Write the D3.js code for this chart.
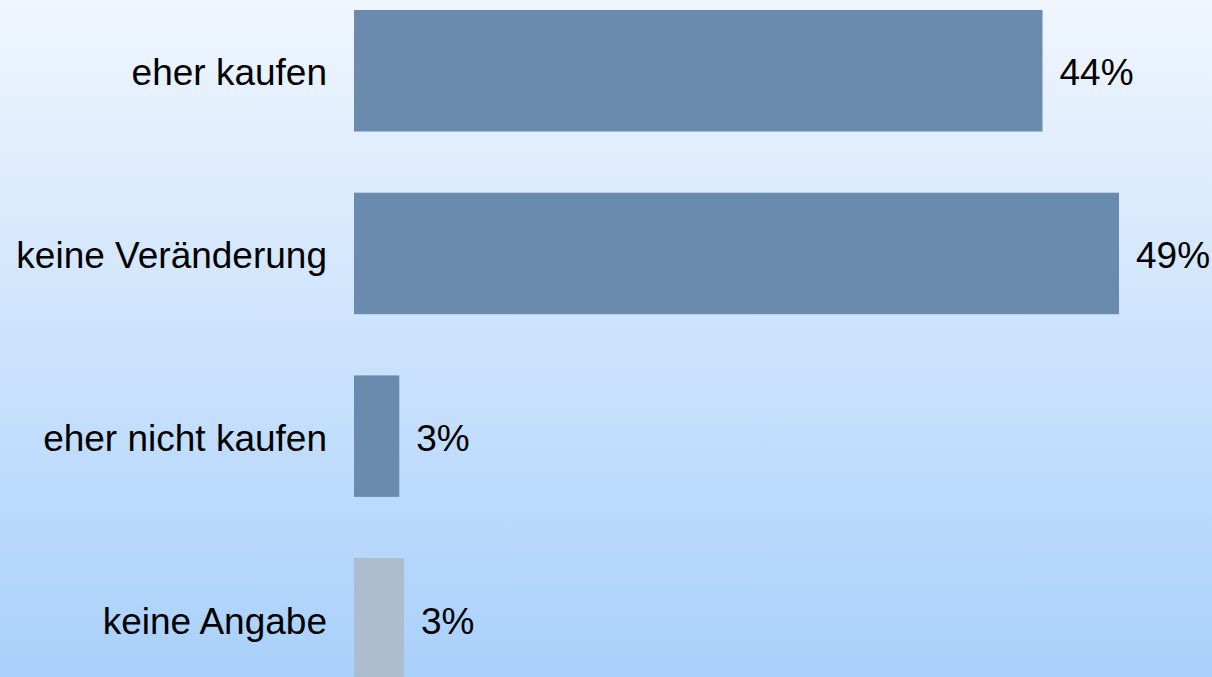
<!DOCTYPE html>
<html>
<head>
<meta charset="utf-8">
<script src="https://cdn.jsdelivr.net/npm/d3@7"></script>
<style>
  html, body { margin: 0; padding: 0; overflow: hidden; }
  body { width: 1212px; height: 677px; }
  svg { display: block; }
</style>
</head>
<body>
<svg id="chart" width="1212" height="677"></svg>
<script>
const categories = ["eher kaufen", "keine Veränderung", "eher nicht kaufen", "keine Angabe"];
const values = [44.1, 49, 2.9, 3.2];
const barColors = ["#6a8aae", "#6a8aae", "#6a8aae", "#adbdd0"];

const W = 1212, H = 677;
const svg = d3.select("#chart");

const defs = svg.append("defs");
const grad = defs.append("linearGradient").attr("id", "bg").attr("x1", 0).attr("y1", 0).attr("x2", 0).attr("y2", 1);
grad.append("stop").attr("offset", "0%").attr("stop-color", "#f0f6fe");
grad.append("stop").attr("offset", "100%").attr("stop-color", "#a9d0fb");
svg.append("rect").attr("width", W).attr("height", H).attr("fill", "url(#bg)");

const x0 = 354;
const x = d3.scaleLinear().domain([0, 49]).range([x0, 1119]);
const y = d3.scaleBand().domain(categories).range([10, 679.6]).paddingInner(0.335).paddingOuter(0);

const fontSize = 37;
const baseOff = 0.716 * fontSize / 2 + 1.5;

const g = svg.append("g");
categories.forEach((c, i) => {
  const yc = y(c) + y.bandwidth() / 2;
  g.append("rect")
    .attr("x", x(0)).attr("y", y(c))
    .attr("width", x(values[i]) - x(0)).attr("height", y.bandwidth())
    .attr("fill", barColors[i]);
  g.append("text")
    .attr("x", x0 - 27).attr("y", yc + baseOff)
    .attr("text-anchor", "end")
    .attr("font-family", "'Liberation Sans', Arial, sans-serif")
    .attr("font-size", fontSize).attr("fill", "#000")
    .text(c);
  g.append("text")
    .attr("x", x(values[i]) + 17).attr("y", yc + baseOff)
    .attr("font-family", "'Liberation Sans', Arial, sans-serif")
    .attr("font-size", fontSize).attr("fill", "#000")
    .text(d3.format(".0f")(values[i]) + "%");
});
</script>
</body>
</html>
